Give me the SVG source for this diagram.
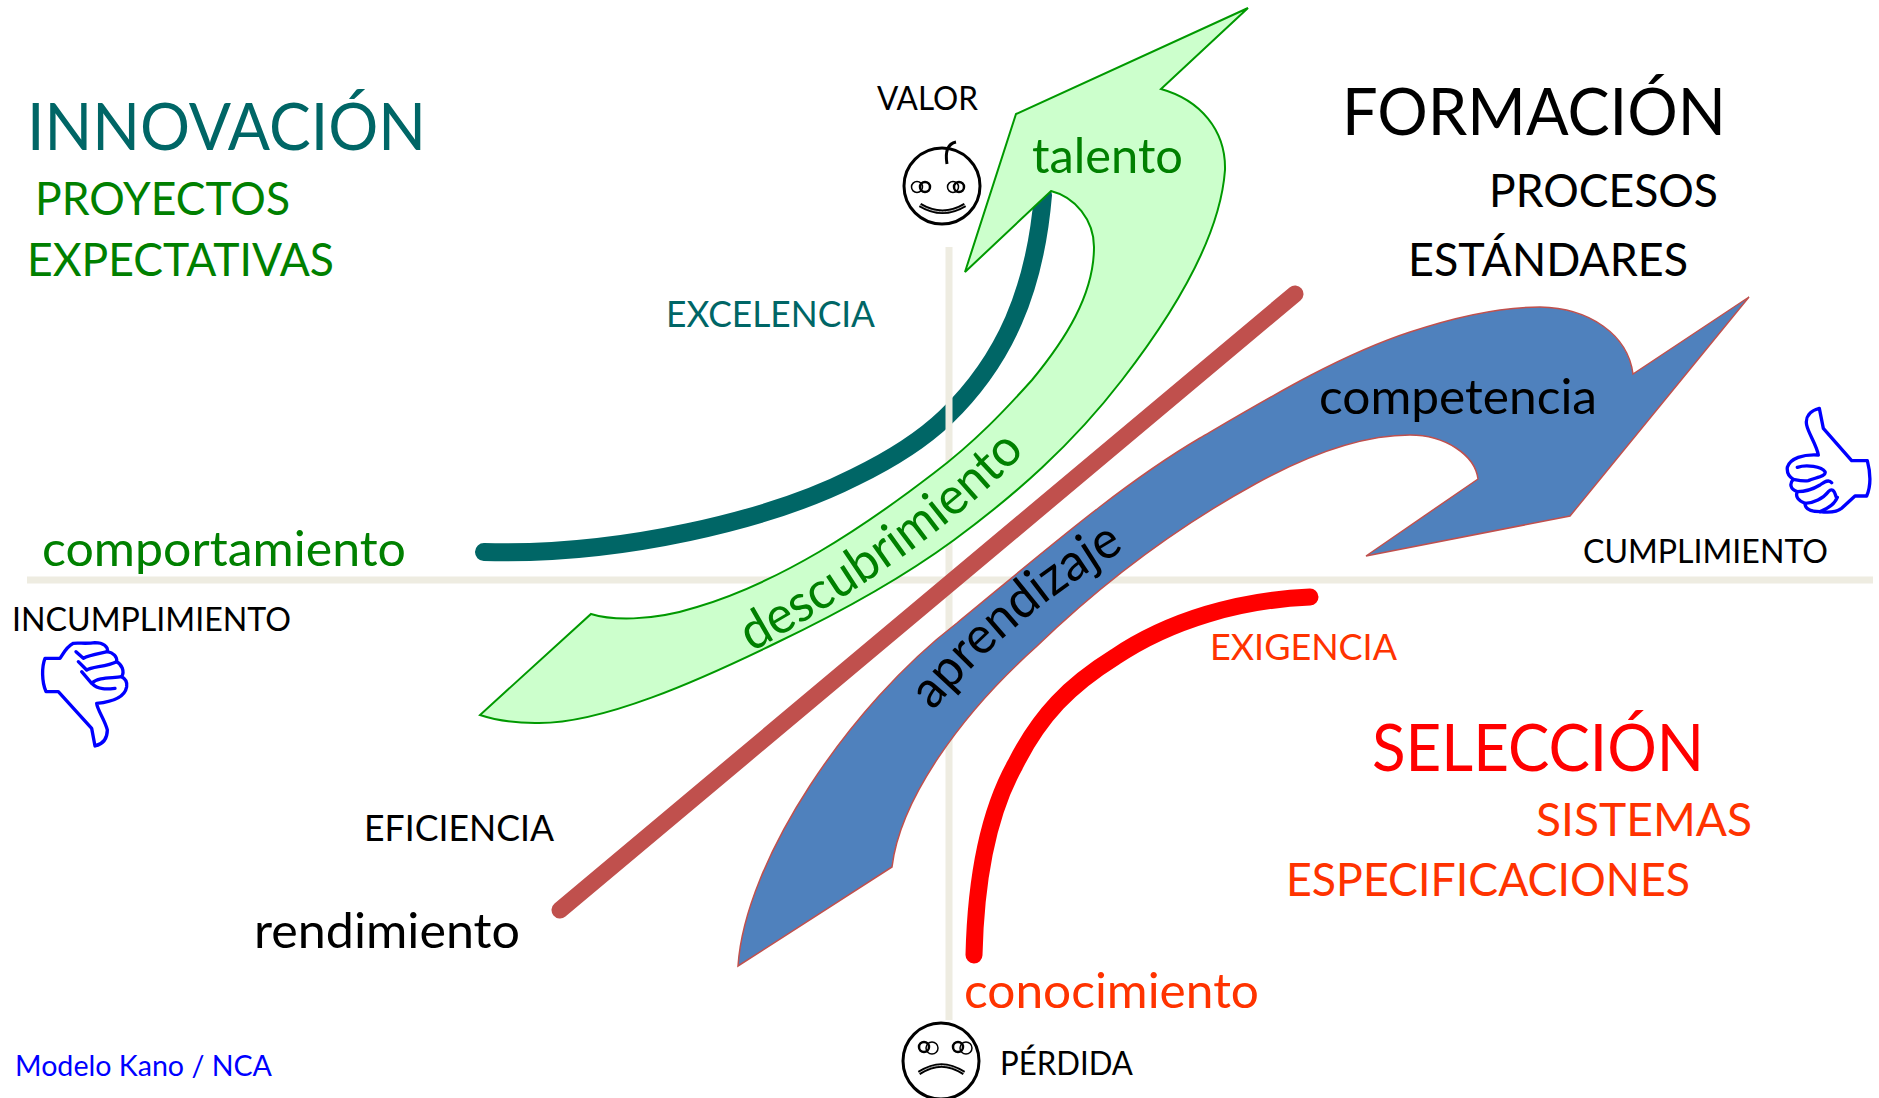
<svg xmlns="http://www.w3.org/2000/svg" xmlns:xlink="http://www.w3.org/1999/xlink" width="1879" height="1098" viewBox="0 0 1879 1098">
<style>
text{font-family:"Lato","Open Sans","Liberation Sans",sans-serif}
.axis{stroke:#EEECE1;stroke-width:7;fill:none}
.grn{fill:#CCFFCC;stroke:#009900;stroke-width:2}
.blu{fill:#4F81BD;stroke:#C0504D;stroke-width:1.5}
.face{fill:none;stroke:#000;stroke-width:3}
.thumb{fill:#fff;stroke:#0000FF;stroke-width:10;stroke-linejoin:round;stroke-linecap:round}
</style>
<defs>
<path id="p1" d="M752 652C840 602 950 532 1025 452"/>
<path id="p2" d="M933 711C985 648 1050 593 1126 549"/>
</defs>
<rect width="1879" height="1098" fill="#fff"/>
<g id="connectors">
<path id="teal" d="M484 552C620 556 770 520 855 477C890 460 920 442 946 417C1005 360 1035 290 1043 195" fill="none" stroke="#006666" stroke-width="18" stroke-linecap="round"/>
<path id="axis-h" class="axis" d="M27 580H1873"/>
<path id="axis-v" class="axis" d="M949 247V1020"/>
<path id="brown" d="M560 910L1295 294" fill="none" stroke="#C0504D" stroke-width="17" stroke-linecap="round"/>
<path id="red" d="M974 955C976 870 990 810 1015 765C1040 715 1070 685 1115 657C1170 620 1240 600 1310 597" fill="none" stroke="#FF0000" stroke-width="17" stroke-linecap="round"/>
</g>
<g id="arrow-green">
<path class="grn" d="M1248 8L1161 89C1200 100 1226 130 1225 170C1220 240 1170 318 1122 380C1072 445 1015 495 954 540C890 587 820 622 776 643C700 680 600 725 535 723C515 723 495 720 480 715L591 614C610 620 650 622 697 607C780 582 860 530 934 473C975 442 1005 410 1032 380C1065 340 1094 295 1094 247C1094 220 1075 197 1051 191L965 272L1016 114Z"/>
<text x="1032" y="173" font-size="49" fill="#008000" textLength="151" lengthAdjust="spacingAndGlyphs">talento</text>
<text font-size="52" fill="#008000"><textPath xlink:href="#p1" href="#p1" textLength="340" lengthAdjust="spacingAndGlyphs">descubrimiento</textPath></text>
</g>
<g id="arrow-blue">
<path class="blu" d="M1749 297L1633 374C1628 335 1590 308 1540 307C1500 307 1455 317 1410 332C1340 355 1270 397 1200 438C1120 485 1040 555 957 623C850 705 745 860 738 966L892 867C900 800 960 715 1036 647C1100 585 1175 528 1257 483C1312 453 1365 435 1410 435C1445 435 1475 455 1478 479L1366 556L1570 516Z"/>
<text x="1319" y="414" font-size="49" fill="#000" textLength="278" lengthAdjust="spacingAndGlyphs">competencia</text>
<text font-size="52" fill="#000"><textPath xlink:href="#p2" href="#p2" textLength="252" lengthAdjust="spacingAndGlyphs">aprendizaje</textPath></text>
</g>
<g id="face-smile">
<circle class="face" cx="942" cy="186" r="38"/>
<path class="face" d="M947 164C945 152 947 144 956 142"/>
<circle cx="917" cy="187" r="5.5" fill="none" stroke="#000" stroke-width="1.5"/><circle cx="925" cy="187" r="5" fill="none" stroke="#000" stroke-width="2.5"/>
<circle cx="953" cy="187" r="5.5" fill="none" stroke="#000" stroke-width="1.5"/><circle cx="959" cy="187" r="5" fill="none" stroke="#000" stroke-width="2.5"/>
<path d="M920 205C935 214 950 214 965 205" fill="none" stroke="#000" stroke-width="4.5"/><path d="M920 205C935 214 950 214 965 205" fill="none" stroke="#bbb" stroke-width="1"/>
</g>
<g id="face-sad">
<circle class="face" cx="941" cy="1061" r="38"/>
<circle cx="924" cy="1047" r="5" fill="none" stroke="#000" stroke-width="2.5"/><circle cx="932" cy="1048" r="6" fill="none" stroke="#000" stroke-width="1.5"/>
<circle cx="958" cy="1047" r="5" fill="none" stroke="#000" stroke-width="2.5"/><circle cx="966" cy="1048" r="6" fill="none" stroke="#000" stroke-width="1.5"/>
<path d="M919 1073C935 1063 948 1063 964 1073" fill="none" stroke="#000" stroke-width="4.5"/><path d="M919 1073C935 1063 948 1063 964 1073" fill="none" stroke="#bbb" stroke-width="1"/>
</g>
<g id="thumb-up" transform="translate(1760 390) scale(.3333)">
<path class="thumb" d="M178 55C150 62 135 80 140 105C145 130 170 165 175 195C130 192 90 205 82 232C80 250 90 262 100 268C88 280 90 298 112 305C105 320 115 332 135 340C135 355 150 365 180 365C205 368 230 368 245 355L285 318H320C332 290 332 250 322 212H275L190 115Z"/>
<path class="thumb" fill="none" d="M112 232C140 222 185 230 195 245C200 258 170 262 145 272C130 275 110 270 100 268M112 305C130 305 155 300 180 285C190 278 205 265 215 278M135 340C160 340 190 325 205 305C215 295 222 298 228 320M180 365C205 355 225 340 232 322"/>
</g>
<g id="thumb-down" transform="translate(20 620) scale(.3333)">
<path class="thumb" d="M225 378C250 372 262 355 262 330C255 300 232 270 230 250C280 245 315 230 320 200C322 185 315 175 305 170C315 155 305 132 290 125C292 110 280 98 262 95C265 80 250 68 225 68C200 72 175 68 160 70C140 80 130 100 120 115H75C65 140 65 185 78 215H115L215 325Z"/>
<path class="thumb" fill="none" d="M168 95L190 115C205 105 240 100 262 95M175 125L200 150C215 140 260 140 290 125M185 155L215 190C235 170 275 175 305 170M215 190C235 210 260 208 285 205"/>
</g>
<g id="labels">
<text x="27" y="150" font-size="66" fill="#006666" textLength="399" lengthAdjust="spacingAndGlyphs">INNOVACIÓN</text>
<text x="35" y="215" font-size="46" fill="#008000" textLength="255" lengthAdjust="spacingAndGlyphs">PROYECTOS</text>
<text x="27" y="276" font-size="46" fill="#008000" textLength="307" lengthAdjust="spacingAndGlyphs">EXPECTATIVAS</text>
<text x="1342" y="135" font-size="66" fill="#000" textLength="384" lengthAdjust="spacingAndGlyphs">FORMACIÓN</text>
<text x="1489" y="207" font-size="46" fill="#000" textLength="229" lengthAdjust="spacingAndGlyphs">PROCESOS</text>
<text x="1408" y="276" font-size="46" fill="#000" textLength="280" lengthAdjust="spacingAndGlyphs">ESTÁNDARES</text>
<text x="877" y="110" font-size="32" fill="#000" textLength="101" lengthAdjust="spacingAndGlyphs">VALOR</text>
<text x="666" y="327" font-size="37" fill="#006666" textLength="209" lengthAdjust="spacingAndGlyphs">EXCELENCIA</text>
<text x="42" y="566" font-size="49" fill="#008000" textLength="364" lengthAdjust="spacingAndGlyphs">comportamiento</text>
<text x="12" y="631" font-size="33" fill="#000" textLength="279" lengthAdjust="spacingAndGlyphs">INCUMPLIMIENTO</text>
<text x="1583" y="563" font-size="33" fill="#000" textLength="245" lengthAdjust="spacingAndGlyphs">CUMPLIMIENTO</text>
<text x="1210" y="660" font-size="37" fill="#FF3300" textLength="187" lengthAdjust="spacingAndGlyphs">EXIGENCIA</text>
<text x="1372" y="771" font-size="66" fill="#FF0000" textLength="332" lengthAdjust="spacingAndGlyphs">SELECCIÓN</text>
<text x="1536" y="836" font-size="46" fill="#FF3300" textLength="216" lengthAdjust="spacingAndGlyphs">SISTEMAS</text>
<text x="1286" y="896" font-size="46" fill="#FF3300" textLength="404" lengthAdjust="spacingAndGlyphs">ESPECIFICACIONES</text>
<text x="964" y="1008" font-size="49" fill="#FF3300" textLength="295" lengthAdjust="spacingAndGlyphs">conocimiento</text>
<text x="1000" y="1075" font-size="33" fill="#000" textLength="133" lengthAdjust="spacingAndGlyphs">PÉRDIDA</text>
<text x="15" y="1076" font-size="29" fill="#0000FF" textLength="257" lengthAdjust="spacingAndGlyphs">Modelo Kano / NCA</text>
<text x="364" y="841" font-size="37" fill="#000" textLength="190" lengthAdjust="spacingAndGlyphs">EFICIENCIA</text>
<text x="254" y="948" font-size="49" fill="#000" textLength="266" lengthAdjust="spacingAndGlyphs">rendimiento</text>
</g>
</svg>
